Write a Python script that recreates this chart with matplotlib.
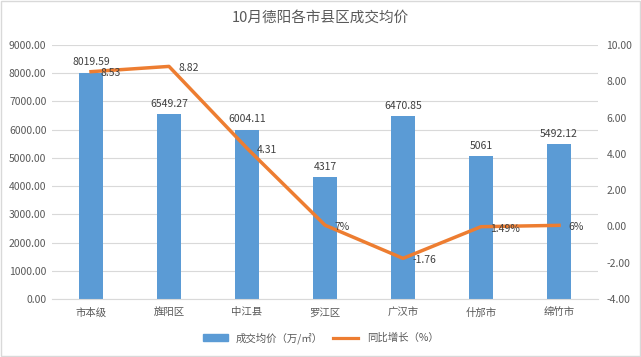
import matplotlib
matplotlib.use("Agg")
import matplotlib.pyplot as plt
from matplotlib.patches import Rectangle

plt.rcParams["font.family"] = ["Noto Sans CJK SC", "DejaVu Sans"]

districts = ["市本级", "旌阳区", "中江县", "罗江区", "广汉市", "什邡市", "绵竹市"]
avg_price = [8019.59, 6549.27, 6004.11, 4317, 6470.85, 5061, 5492.12]
price_labels = ["8019.59", "6549.27", "6004.11", "4317", "6470.85", "5061", "5492.12"]
yoy_growth = [8.53, 8.82, 4.31, 0.07, -1.76, -0.0149, 0.06]
yoy_labels = ["8.53", "8.82", "4.31", "7%", "-1.76", "1.49%", "6%"]

BAR = "#5B9BD5"
LINE = "#ED7D31"
TXT = "#595959"
GRID = "#D9D9D9"

fig = plt.figure(figsize=(6.41, 3.57), dpi=100)
ax = fig.add_axes([52 / 641, 1 - 299 / 357, 546 / 641, 254 / 357])
ax2 = ax.twinx()

x = range(len(districts))
ax.bar(x, avg_price, width=0.3, color=BAR, zorder=2)
for xi, v, lab in zip(x, avg_price, price_labels):
    ax.text(xi, v + 190, lab, ha="center", va="bottom", fontsize=7.5, color="#404040")

ax.set_ylim(0, 9000)
ax.set_yticks(range(0, 9001, 1000))
ax.set_yticklabels([f"{v:.2f}" for v in range(0, 9001, 1000)])
ax.set_xlim(-0.5, len(districts) - 0.5)
ax.set_xticks(list(x))
ax.set_xticklabels(districts)
ax.grid(axis="y", color=GRID, lw=0.8, zorder=0)
ax.set_axisbelow(True)

ax2.plot(list(x), yoy_growth, color=LINE, lw=2.5, zorder=3)
for xi, v, lab in zip(x, yoy_growth, yoy_labels):
    ax2.text(xi + 0.12, v - 0.1, lab, ha="left", va="center", fontsize=7.5, color="#404040")
ax2.set_ylim(-4, 10)
ax2.set_yticks(range(-4, 11, 2))
ax2.set_yticklabels([f"{v:.2f}" for v in range(-4, 11, 2)])

for a in (ax, ax2):
    for s in a.spines.values():
        s.set_visible(False)
    a.tick_params(length=0, labelsize=7.5, colors=TXT)
ax.spines["bottom"].set_visible(True)
ax.spines["bottom"].set_color(GRID)
ax.tick_params(axis="x", pad=6)
ax.tick_params(axis="y", pad=4)
ax2.tick_params(axis="y", pad=6)

fig.text(0.5, 1 - 18 / 357, "10月德阳各市县区成交均价", ha="center", va="center",
         fontsize=10.5, color=TXT)

h1 = Rectangle((0, 0), 1, 1, color=BAR)
h2 = plt.Line2D([0], [0], color=LINE, lw=2.3)
fig.legend([h1, h2], ["成交均价（万/㎡）", "同比增长（%）"], loc="center",
           bbox_to_anchor=(0.5, 1 - 338 / 357), ncol=2, frameon=False,
           fontsize=7.5, labelcolor=TXT, handlelength=2.4, columnspacing=1.0)

fig.add_artist(Rectangle((0.001, 0.002), 0.997, 0.996, transform=fig.transFigure,
                         fill=False, edgecolor="#D9D9D9", lw=1))

fig.savefig("out.png", dpi=100)
